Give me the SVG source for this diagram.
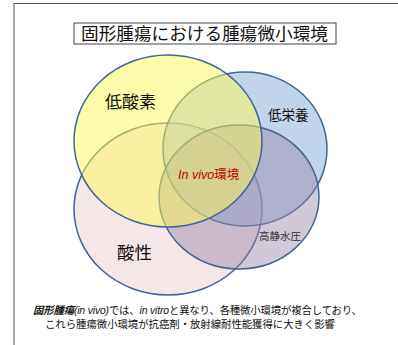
<svg xmlns="http://www.w3.org/2000/svg" width="398" height="345" viewBox="0 0 398 345">
<style>
text{font-family:"Liberation Sans","Noto Sans CJK JP",sans-serif;}
.ell{stroke:#3f6597;stroke-width:1.5;}
.jp{fill:#111;}
</style>
<rect width="398" height="345" fill="#fff"/>
<rect id="frame" x="14" y="3.5" width="400" height="360" fill="none" stroke="#555" stroke-width="1"/>
<g id="title">
<rect x="74" y="23" width="262" height="21" fill="#fff" stroke="#444" stroke-width="1"/>
<text x="81" y="40" font-size="17.5" textLength="247" lengthAdjust="spacingAndGlyphs" class="jp">固形腫瘍における腫瘍微小環境</text>
</g>
<g id="venn">
<ellipse id="acid" class="ell" cx="168" cy="209" rx="94" ry="86" fill="#f5e6e8"/>
<ellipse id="lownutrient" class="ell" cx="245" cy="149" rx="82" ry="77" fill="#8fb0d8" fill-opacity="0.55"/>
<ellipse id="pressure" class="ell" cx="239" cy="197" rx="80" ry="72" fill="#9a86a8" fill-opacity="0.45"/>
<ellipse id="hypoxia" class="ell" cx="168" cy="141" rx="94" ry="86" fill="#fbf955" fill-opacity="0.5"/>
</g>
<g id="labels">
<text x="105" y="108" font-size="17" class="jp">低酸素</text>
<text x="268" y="120" font-size="13.5" class="jp">低栄養</text>
<text x="178" y="178.5" font-size="12.5" fill="#c00000"><tspan font-style="italic">In vivo</tspan>環境</text>
<text x="259" y="240" font-size="10.5" fill="#333">高静水圧</text>
<text x="117" y="259" font-size="17.5" class="jp">酸性</text>
</g>
<g id="caption" font-size="10.4" fill="#111">
<text x="33" y="314" textLength="329" lengthAdjust="spacing"><tspan font-weight="bold" font-style="italic">固形腫瘍</tspan><tspan font-style="italic">(in vivo)</tspan>では、<tspan font-style="italic">in vitro</tspan>と異なり、各種微小環境が複合しており、</text>
<text x="45" y="328" textLength="290" lengthAdjust="spacing">これら腫瘍微小環境が抗癌剤・放射線耐性能獲得に大きく影響</text>
</g>
</svg>
